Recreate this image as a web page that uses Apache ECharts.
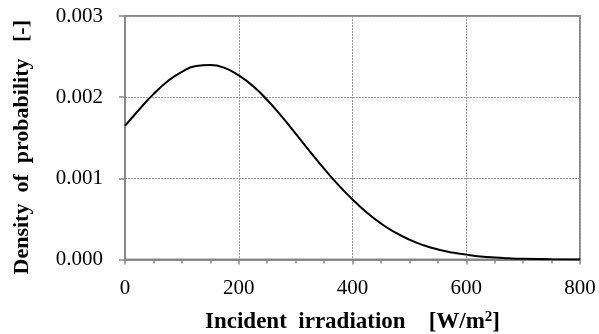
<!DOCTYPE html>
<html>
<head>
<meta charset="utf-8">
<script src="https://cdn.jsdelivr.net/npm/echarts@6/dist/echarts.min.js"></script>
<style>
  html, body { margin: 0; padding: 0; background: #fff; }
  #chart { width: 599px; height: 334px; }
</style>
</head>
<body>
<div id="chart"></div>
<script>
// values
var irradiation = [0, 25, 50, 75, 100, 125, 150, 175, 200, 225, 250, 275, 300, 325, 350, 375,
  400, 425, 450, 475, 500, 525, 550, 575, 600, 625, 650, 675, 700, 750, 800];
var density = [0.001645, 0.001848, 0.002037, 0.002196, 0.002313, 0.002383, 0.002395, 0.002361,
  0.002268, 0.002137, 0.001965, 0.001766, 0.001552, 0.001333, 0.001120, 0.000919,
  0.000740, 0.000579, 0.000444, 0.000333, 0.000244, 0.000175, 0.000124, 0.0000860,
  0.0000600, 0.0000380, 0.0000240, 0.0000150, 0.0000090, 0.0000031, 0.000001];
var xTicks = [0, 800, 200];      // min, max, interval
var yTicks = [0, 0.003, 0.001];

var serif = '"Liberation Serif", "Times New Roman", serif';
var axisGray = '#888';

var chart = echarts.init(document.getElementById('chart'));
var points = irradiation.map(function (x, i) { return [x, density[i]]; });

chart.setOption({
  animation: false,
  grid: {
    left: 125, right: 19, top: 16, bottom: 74.5,
    outerBoundsMode: 'none',
    show: true, borderColor: axisGray, borderWidth: 2
  },
  xAxis: {
    type: 'value',
    min: xTicks[0], max: xTicks[1], interval: xTicks[2],
    name: 'Incident  irradiation    [W/m{sup|2}]',
    nameLocation: 'middle',
    nameGap: 50,
    nameTextStyle: {
      fontFamily: serif, fontSize: 23, fontWeight: 'bold', color: '#000',
      rich: {
        sup: { fontFamily: serif, fontSize: 15, fontWeight: 'bold', color: '#000', padding: [0, 0, 10, 0] }
      }
    },
    axisLine: { show: true, lineStyle: { color: axisGray, width: 2 } },
    axisTick: { show: true, inside: false, length: 5, lineStyle: { color: axisGray, width: 1.5 } },
    minorTick: { show: true, splitNumber: 4, length: 4, lineStyle: { color: axisGray, width: 1.5 } },
    axisLabel: { fontFamily: serif, fontSize: 21, color: '#000', margin: 18 },
    splitLine: { show: true, lineStyle: { color: '#999', type: [2, 1], width: 1 } }
  },
  yAxis: {
    type: 'value',
    min: yTicks[0], max: yTicks[1], interval: yTicks[2],
    name: 'Density  of  probability   [-]',
    nameLocation: 'middle',
    nameGap: 92,
    nameTextStyle: {
      fontFamily: serif, fontSize: 22, fontWeight: 'bold', color: '#000',
      padding: [0, 19, 0, 0]
    },
    axisLine: { show: true, lineStyle: { color: axisGray, width: 2 } },
    axisTick: { show: true, inside: false, length: 6, lineStyle: { color: axisGray, width: 1.5 } },
    axisLabel: {
      fontFamily: serif, fontSize: 21, color: '#000', margin: 22,
      formatter: function (v) { return v.toFixed(3); }
    },
    splitLine: { show: true, lineStyle: { color: '#999', type: [2, 1], width: 1 } }
  },
  series: [{
    type: 'line',
    data: points,
    smooth: true,
    showSymbol: false,
    lineStyle: { color: '#000', width: 2 }
  }]
});
</script>
</body>
</html>
